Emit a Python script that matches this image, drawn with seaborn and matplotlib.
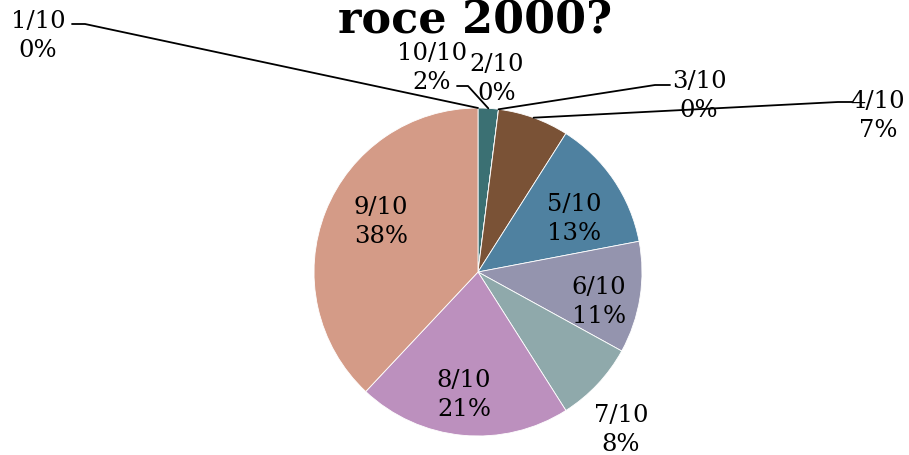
import matplotlib
matplotlib.use("Agg")
import matplotlib.pyplot as plt
import seaborn as sns
import numpy as np

# data, in the order the slices run clockwise from 12 o'clock
categories = ["1/10", "10/10", "2/10", "3/10", "4/10", "5/10", "6/10", "7/10", "8/10", "9/10"]
shares = [0, 2, 0, 0, 7, 13, 11, 8, 21, 38]
title = "roce 2000?"

colors = ["#3F6F8C", "#3B7073", "#8A4E3C", "#6E7D4B", "#7A5236", "#4F81A0",
          "#9494AE", "#8FA9AB", "#BC90BE", "#D49B87"]

# label centres and leader elbows, in image pixels (top-left origin)
label_pos = {
    "1/10": (38, 36), "10/10": (432, 68), "2/10": (497, 79), "3/10": (699, 96),
    "4/10": (878, 116), "5/10": (574, 219), "6/10": (599, 302),
    "7/10": (621, 430), "8/10": (464, 395), "9/10": (381, 222),
}
leaders = {
    "1/10": [(72, 25), (85, 25)],
    "10/10": [(457, 87), (468, 87)],
    "3/10": [(670, 86), (655, 86)],
    "4/10": [(852, 103), (838, 103)],
}

W, H = 909, 456
CX, CY, R = 478, 273, 164

sns.set_theme(style="white")
plt.rcParams["font.family"] = ["DejaVu Serif"]


def px2data(p):
    return (p[0] - CX) / R, (CY - p[1]) / R


fig = plt.figure(figsize=(W / 100, H / 100), dpi=100)
ax = fig.add_axes([(CX - R) / W, (H - CY - R) / H, 2 * R / W, 2 * R / H])

wedges, _ = ax.pie(shares, colors=colors, startangle=90, counterclock=False,
                   radius=1, wedgeprops=dict(edgecolor="white", linewidth=0.6))
ax.set_xlim(-1, 1)
ax.set_ylim(-1, 1)
ax.axis("off")

for cat, val, w in zip(categories, shares, wedges):
    x, y = label_pos[cat]
    fig.text(x / W, 1 - y / H, f"{cat}\n{val}%", ha="center", va="center",
             multialignment="center", fontsize=17.5, linespacing=1.3, color="black")
    if cat in leaders:
        mid = np.deg2rad((w.theta1 + w.theta2) / 2)
        anchor = (np.cos(mid), np.sin(mid))
        pts = [px2data(p) for p in leaders[cat]] + [anchor]
        xs, ys = zip(*pts)
        ax.plot(xs, ys, color="black", lw=1.3, clip_on=False, zorder=5)

fig.text(475 / W, 1 - 21 / H, title, ha="center", va="center",
         fontsize=32, fontweight="bold", color="black")

fig.savefig("out.png", dpi=100)
